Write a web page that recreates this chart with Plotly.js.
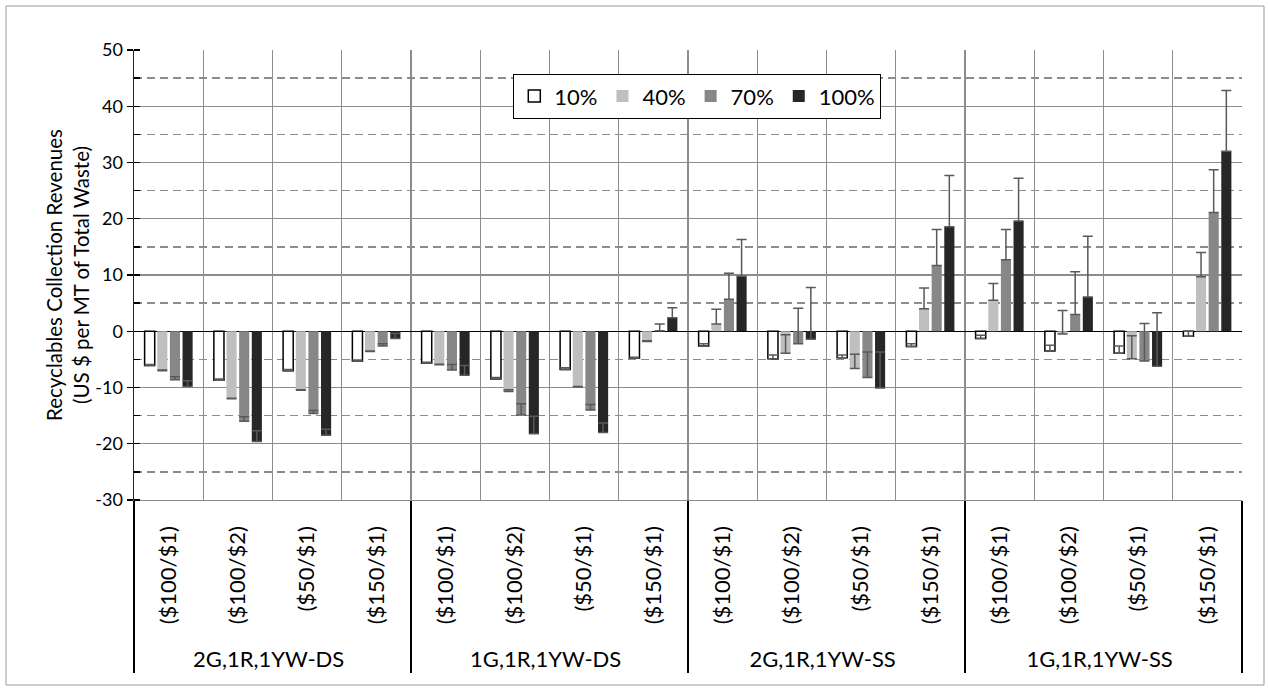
<!DOCTYPE html>
<html>
<head>
<meta charset="utf-8">
<script src="https://cdn.plot.ly/plotly-3.0.1.min.js"></script>
<style>html,body{margin:0;padding:0;background:#fff;}#chart{width:1268px;height:691px;}</style>
</head>
<body>
<div id="chart"></div>
<script>
const groups = ['2G,1R,1YW-DS','1G,1R,1YW-DS','2G,1R,1YW-SS','1G,1R,1YW-SS'];
const prices = ['($100/$1)','($100/$2)','($50/$1)','($150/$1)'];
const seriesNames = ['10%','40%','70%','100%'];
const yTickVals = [-30,-20,-10,0,10,20,30,40,50];
const yTickText = ['-30','-20','-10','0','10','20','30','40','50'];

const v10  = [-6.1,-8.7,-7.0,-5.3, -5.7,-8.5,-6.8,-4.8, -2.6,-4.9,-4.7,-2.7, -1.3,-3.5,-3.9,-0.9];
const e10  = [0.2,0.2,0.2,0.2, 0.2,0.3,0.3,0.2, 0.4,0.7,0.5,0.5, 0.6,1.0,1.3,0.9];
const v40  = [-7.0,-12.0,-10.5,-3.6, -5.95,-10.7,-9.9,-1.8, 1.3,-3.9,-6.6,4.0, 5.5,-0.5,-4.9,9.7];
const e40  = [0.1,0.1,0.1,0.1, 0.1,0.3,0.1,0.1, 2.6,3.3,2.5,3.7, 3.0,4.2,4.1,4.3];
const v70  = [-8.6,-16.0,-14.6,-2.6, -6.9,-14.9,-14.0,0.1, 5.7,-2.2,-8.2,11.7, 12.7,3.0,-5.3,21.1];
const e70  = [0.5,0.8,0.5,0.4, 1.0,2.0,1.0,1.2, 4.6,6.3,4.5,6.4, 5.4,7.6,6.7,7.6];
const v100 = [-9.8,-19.6,-18.5,-1.3, -7.8,-18.2,-18.0,2.4, 9.8,-1.4,-10.1,18.6, 19.6,6.1,-6.2,32.0];
const e100 = [1.0,1.9,1.1,0.9, 1.7,3.1,1.7,1.8, 6.5,9.2,6.4,9.1, 7.6,10.8,9.5,10.8];

// leading no-break spaces add room below the rotated labels, as in the reference
const PAD = '\u00a0\u00a0\u00a0';
const outer = [], inner = [];
groups.forEach(g => prices.forEach(p => { outer.push(g); inner.push(PAD + p); }));

const vals = [v10, v40, v70, v100];
const errs = [e10, e40, e70, e100];
const fills = ['#ffffff','#bfbfbf','#878787','#262626'];
const lines = ['#000000','#bfbfbf','#878787','#262626'];
const lw = [1.5,0,0,0];

const FONT = 'Lato, "Open Sans", sans-serif';

const data = seriesNames.map((n,i) => ({
  type:'bar', name:n, x:[outer, inner], y:vals[i],
  marker:{color:fills[i], line:{color:lines[i], width:lw[i]}},
  error_y:{type:'data', array:errs[i], arrayminus:errs[i].map(()=>0), symmetric:false,
           color:'#595959', thickness:1.5, width:5}
}));

const L=134, R=1242, T=50, B=500;
const W=1268, H=691;
const pw=R-L, ph=B-T;
const px = x => (x-L)/pw;
const py = y => (B-y)/ph;

const layout = {
  width:W, height:H,
  margin:{l:L, r:W-R, t:T, b:H-B, pad:0},
  paper_bgcolor:'#fff', plot_bgcolor:'#fff',
  font:{family:FONT, size:19, color:'#000'},
  barmode:'group', bargap:0.27, bargroupgap:0.2,
  showlegend:true,
  legend:{orientation:'h', x:px(513), y:py(74), xanchor:'left', yanchor:'top',
          bgcolor:'#fff', bordercolor:'#000', borderwidth:1.3,
          font:{family:FONT, size:22}, itemwidth:30, traceorder:'normal'},
  xaxis:{type:'multicategory', showgrid:true, gridcolor:'#8c8c8c', gridwidth:1.3,
         tickson:'boundaries', ticks:'', showline:true, linecolor:'#8c8c8c', linewidth:1.3,
         tickangle:-90, tickfont:{family:FONT, size:22}, ticklabelstandoff:16,
         showdividers:true, dividercolor:'#000', dividerwidth:1.5, automargin:false},
  yaxis:{range:[-30,50], tickmode:'array', tickvals:yTickVals, ticktext:yTickText,
         showgrid:true, gridcolor:'#8c8c8c', gridwidth:1.3,
         zeroline:true, zerolinecolor:'#000', zerolinewidth:1.5,
         showline:true, linecolor:'#262626', linewidth:1.5,
         ticks:'outside', ticklen:6, tickcolor:'#000', tickwidth:1.3,
         tickfont:{family:FONT, size:18},
         minor:{dtick:5, tick0:0, showgrid:true, gridcolor:'#8c8c8c', gridwidth:1.3, griddash:'8px,5px',
                ticks:'inside', ticklen:6, tickcolor:'#000', tickwidth:1.3},
         title:{text:'Recyclables Collection Revenues<br>(US $ per MT of Total Waste)',
                font:{family:FONT, size:20.5}, standoff:0},
         automargin:false},
  shapes:[{type:'rect', xref:'paper', yref:'paper', x0:px(6), x1:px(1264), y0:py(685), y1:py(6),
           line:{color:'#9a9a9a', width:1}, fillcolor:'rgba(0,0,0,0)', layer:'below'}]
};

Plotly.newPlot('chart', data, layout, {displayModeBar:false, staticPlot:true});
</script>
</body>
</html>
